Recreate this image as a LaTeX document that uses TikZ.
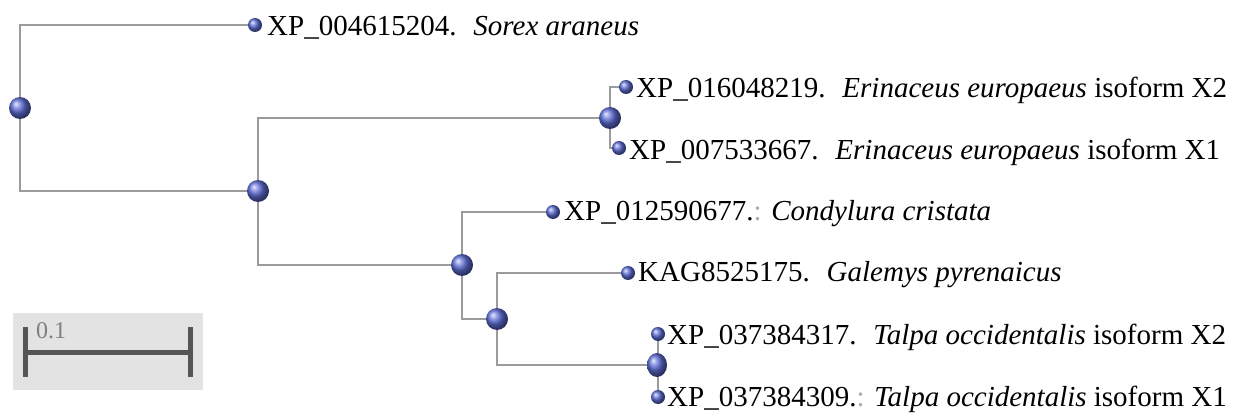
\documentclass[tikz,border=0pt]{standalone}
\usepackage{fontspec}
\setmainfont{Liberation Serif}
\usetikzlibrary{shapes.geometric}
\definecolor{branch}{RGB}{155,155,155}
\definecolor{ballblue}{RGB}{95,110,215}
\definecolor{scalebg}{RGB}{227,227,227}
\definecolor{scalebar}{RGB}{85,85,85}
\definecolor{faint}{RGB}{170,170,170}
\tikzset{
  br/.style={draw=branch, line width=2.6pt},
  inner/.style={circle, minimum size=22pt, inner sep=0pt, shading=ball, ball color=ballblue},
  leaf/.style={circle, minimum size=14pt, inner sep=0pt, shading=ball, ball color=ballblue},
  lab/.style={anchor=west, inner sep=0pt, font=\fontsize{29}{32}\selectfont},
}
\begin{document}
\begin{tikzpicture}[x=1pt,y=-1pt]
\useasboundingbox (0,0) rectangle (1237,414);
% coordinates
\coordinate (root) at (20,108);
\coordinate (A) at (258,191);
\coordinate (E) at (610,118);
\coordinate (B) at (462,265);
\coordinate (C) at (497,319);
\coordinate (T) at (657,365);
% branches
\draw[br] (255,25) -| (root) |- (A);
\draw[br] (E) |- (626,87);
\draw[br] (E) |- (619,148);
\draw[br] (E) -| (A) |- (B);
\draw[br] (553,212) -| (B) |- (C);
\draw[br] (628,273) -| (C) |- (T);
\draw[br] (658,334) -- (658,397);
% nodes
\node[leaf] (sor) at (255,25) {};
\node[inner] (nroot) at (root) {};
\node[inner] (nA) at (A) {};
\node[leaf] (er2) at (626,87) {};
\node[leaf] (er1) at (619,148) {};
\node[inner] (nE) at (E) {};
\node[leaf] (con) at (553,212) {};
\node[inner] (nB) at (B) {};
\node[leaf] (gal) at (628,273) {};
\node[inner] (nC) at (C) {};
\node[leaf] (ta2) at (658,334) {};
\node[leaf] (ta1) at (658,397) {};
\node[inner, minimum width=20pt, minimum height=24pt, ellipse] (nT) at (T) {};
% labels
\node[lab] at (267,28) {XP\_004615204.~ \textit{Sorex araneus}};
\node[lab] at (636,90) {XP\_016048219.~ \textit{Erinaceus europaeus} isoform X2};
\node[lab] at (629,152) {XP\_007533667.~ \textit{Erinaceus europaeus} isoform X1};
\node[lab] at (564,214) {XP\_012590677.\textcolor{faint}{:} \textit{Condylura cristata}};
\node[lab] at (638,275) {KAG8525175.~ \textit{Galemys pyrenaicus}};
\node[lab] at (667,337) {XP\_037384317.~ \textit{Talpa occidentalis} isoform X2};
\node[lab] at (667,399) {XP\_037384309.\textcolor{faint}{:} \textit{Talpa occidentalis} isoform X1};
% scale bar
\node[fill=scalebg, minimum width=190pt, minimum height=77pt, inner sep=0pt] (sbg) at (107.5,351.5) {};
\draw[scalebar, line width=5pt] (25,327) -- (25,377);
\draw[scalebar, line width=5pt] (190,327) -- (190,377);
\draw[scalebar, line width=5pt] (25,352) -- (190,352);
\node[anchor=west, inner sep=0pt, text=scalebar!75, font=\fontsize{24}{26}\selectfont] (sl) at (36,331) {0.1};
\end{tikzpicture}
\end{document}
